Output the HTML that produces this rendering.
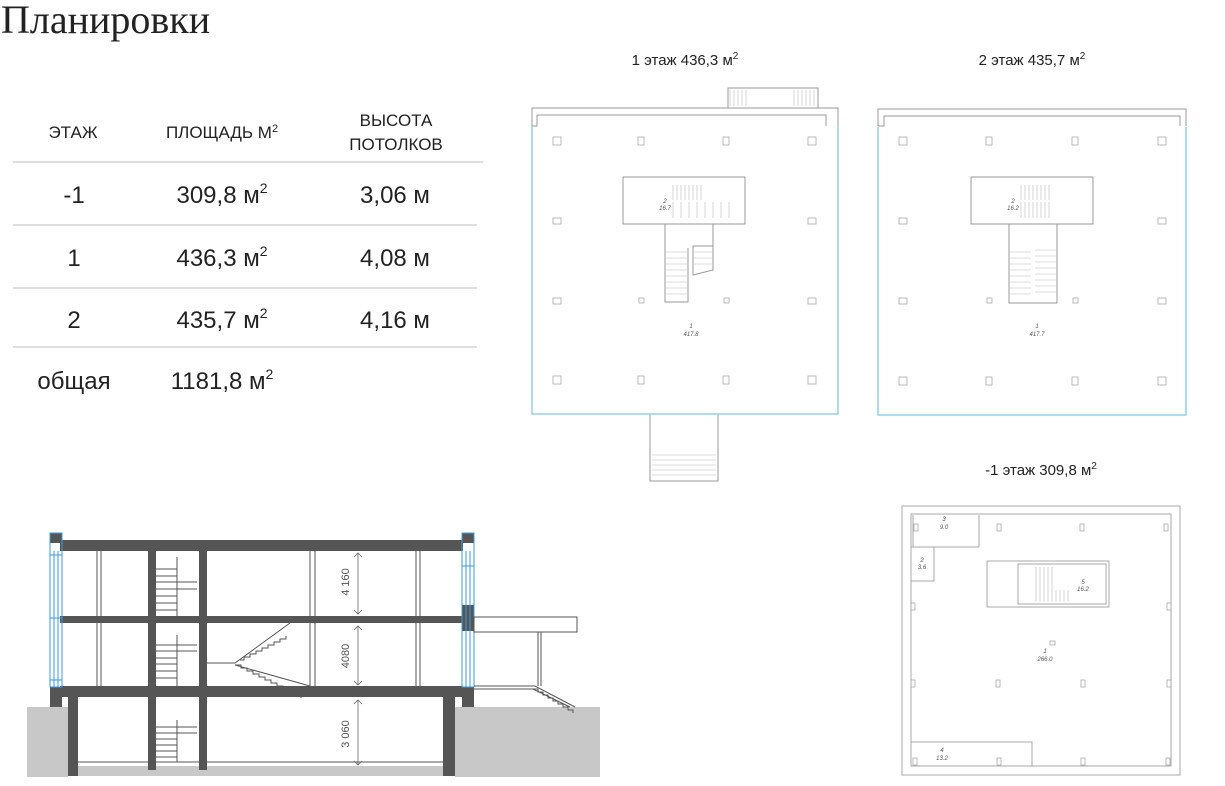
<!DOCTYPE html>
<html><head><meta charset="utf-8"><style>
html,body{margin:0;padding:0;background:#fff;}
body{width:1225px;height:786px;overflow:hidden;position:relative;}
svg{position:absolute;left:0;top:0;}
</style></head><body>
<svg width="1225" height="786" viewBox="0 0 1225 786" xmlns="http://www.w3.org/2000/svg">
<text x="1" y="33" font-family="Liberation Serif, serif" font-size="40" fill="#222">Планировки</text>
<g font-family="Liberation Sans, sans-serif" fill="#222" text-anchor="middle">
<text x="73" y="138" font-size="17">ЭТАЖ</text>
<text x="222" y="138" font-size="17">ПЛОЩАДЬ М<tspan font-size="11" dy="-6">2</tspan></text>
<text x="396" y="126" font-size="17">ВЫСОТА</text>
<text x="396" y="150" font-size="17">ПОТОЛКОВ</text>
<text x="74" y="203" font-size="24">-1</text>
<text x="222" y="203" font-size="24">309,8 м<tspan font-size="14" dy="-10">2</tspan></text>
<text x="395" y="203" font-size="24">3,06 м</text>
<text x="74" y="266" font-size="24">1</text>
<text x="222" y="266" font-size="24">436,3 м<tspan font-size="14" dy="-10">2</tspan></text>
<text x="395" y="266" font-size="24">4,08 м</text>
<text x="74" y="328" font-size="24">2</text>
<text x="222" y="328" font-size="24">435,7 м<tspan font-size="14" dy="-10">2</tspan></text>
<text x="395" y="328" font-size="24">4,16 м</text>
<text x="74" y="389" font-size="24">общая</text>
<text x="222" y="389" font-size="24">1181,8 м<tspan font-size="14" dy="-10">2</tspan></text>
<text x="685" y="65" font-size="15">1 этаж 436,3 м<tspan font-size="10" dy="-6">2</tspan></text>
<text x="1032" y="65" font-size="15">2 этаж 435,7 м<tspan font-size="10" dy="-6">2</tspan></text>
<text x="1041" y="475" font-size="15">-1 этаж 309,8 м<tspan font-size="10" dy="-6">2</tspan></text>
</g>
<g stroke="#ccc" stroke-width="1.2">
<line x1="13" y1="162" x2="483" y2="162"/><line x1="13" y1="225" x2="477" y2="225"/>
<line x1="13" y1="288" x2="477" y2="288"/><line x1="13" y1="347" x2="477" y2="347"/>
</g>

<!-- floor 1 -->
<g fill="none" stroke="#999" stroke-width="1">
<path d="M532,126 V108 H752 M772,108 H838 V126 M532,126 H537 V115 H826 V126"/>
<rect x="728" y="88" width="90" height="20"/>
<path d="M650,414 V481 H718 V414"/>
<rect x="623" y="177" width="122" height="47"/>
<path d="M665,224 V302 H688 V248 M713,224 V270 L693,275 V246 H713"/>
</g>
<g stroke="#bbb" stroke-width="0.6">
<path d="M730,90 V106 M734,90 V106 M738,90 V106 M742,90 V106 M746,90 V106 M794,90 V106 M798,90 V106 M802,90 V106 M806,90 V106 M810,90 V106 M814,90 V106"/>
<path d="M652,455 H716 M652,460 H716 M652,465 H716 M652,470 H716 M652,475 H716"/>
<path d="M673,185 V200 M677,185 V200 M681,185 V200 M685,185 V200 M689,185 V200 M693,185 V200 M697,185 V200 M701,185 V200 M673,202 V218 M681,202 V218 M689,202 V218 M697,202 V218 M705,202 V218 M713,202 V218 M721,202 V218 M729,202 V218"/>
<path d="M666,252 H687 M666,258 H687 M666,264 H687 M666,270 H687 M666,276 H687 M666,282 H687 M666,288 H687 M666,294 H687 M694,252 H712 M694,258 H712 M694,264 H712"/>
</g>
<path d="M532,126 V414 H838 V126" fill="none" stroke="#8fd0ea" stroke-width="1.5"/>
<g fill="none" stroke="#aaa" stroke-width="0.8">
<rect x="553" y="137" width="8" height="8"/><rect x="638" y="137" width="6" height="8"/><rect x="723" y="137" width="6" height="8"/><rect x="808" y="137" width="8" height="8"/>
<rect x="553" y="218" width="8" height="6"/><rect x="808" y="218" width="8" height="6"/>
<rect x="553" y="298" width="8" height="6"/><rect x="639" y="298" width="5" height="5"/><rect x="724" y="298" width="5" height="5"/><rect x="808" y="298" width="8" height="6"/>
<rect x="553" y="376" width="8" height="8"/><rect x="638" y="376" width="6" height="8"/><rect x="723" y="376" width="6" height="8"/><rect x="808" y="376" width="8" height="8"/>
</g>
<g font-family="Liberation Sans, sans-serif" font-size="6" fill="#555" text-anchor="middle" font-style="italic">
<text x="691" y="328">1</text><text x="691" y="336">417.8</text><text x="665" y="203">2</text><text x="665" y="210">16.7</text>
<text x="1037" y="328">1</text><text x="1037" y="336">417.7</text><text x="1013" y="203">2</text><text x="1013" y="210">16.2</text>
<text x="1045" y="653">1</text><text x="1045" y="661">266.0</text><text x="942" y="752">4</text><text x="942" y="760">13.2</text>
<text x="1083" y="584">5</text><text x="1083" y="591">16.2</text><text x="944" y="521">3</text><text x="944" y="529">9.0</text><text x="922" y="562">2</text><text x="922" y="569">3.6</text>
</g>

<!-- floor 2 -->
<g fill="none" stroke="#999" stroke-width="1">
<path d="M878,126 V109 H1186 V126 M878,126 H884 V116 H1180 V126"/>
<rect x="971" y="177" width="122" height="47"/>
<path d="M1009,224 V303 H1057 V224"/>
</g>
<g stroke="#bbb" stroke-width="0.6">
<path d="M1021,185 V200 M1025,185 V200 M1029,185 V200 M1033,185 V200 M1037,185 V200 M1041,185 V200 M1045,185 V200 M1049,185 V200 M1021,202 V218 M1025,202 V218 M1029,202 V218 M1033,202 V218 M1037,202 V218 M1041,202 V218 M1045,202 V218 M1049,202 V218"/>
<path d="M1010,252 H1031 M1010,258 H1031 M1010,264 H1031 M1010,270 H1031 M1010,276 H1031 M1010,282 H1031 M1010,288 H1031 M1010,294 H1031 M1035,250 H1056 M1035,256 H1056 M1035,262 H1056 M1035,268 H1056 M1035,274 H1056 M1035,280 H1056 M1035,286 H1056 M1035,292 H1056"/>
</g>
<path d="M878,127 V415 H1186 V127" fill="none" stroke="#8fd0ea" stroke-width="1.5"/>
<g fill="none" stroke="#aaa" stroke-width="0.8">
<rect x="899" y="137" width="8" height="8"/><rect x="986" y="137" width="6" height="8"/><rect x="1072" y="137" width="6" height="8"/><rect x="1158" y="137" width="8" height="8"/>
<rect x="899" y="218" width="8" height="6"/><rect x="1158" y="218" width="8" height="6"/>
<rect x="899" y="298" width="8" height="6"/><rect x="987" y="298" width="5" height="5"/><rect x="1073" y="298" width="5" height="5"/><rect x="1158" y="298" width="8" height="6"/>
<rect x="899" y="377" width="8" height="8"/><rect x="986" y="377" width="6" height="8"/><rect x="1072" y="377" width="6" height="8"/><rect x="1158" y="377" width="8" height="8"/>
</g>

<!-- floor -1 -->
<g fill="none" stroke="#aaa" stroke-width="1">
<rect x="902" y="506" width="278" height="269"/>
<rect x="911" y="514" width="260" height="252"/>
<path d="M913,515 V547 H979 V515 M911,547 H934 V581 H911"/>
<rect x="987" y="561" width="122" height="46"/>
<rect x="1018" y="564" width="88" height="40"/>
<path d="M911,742 H1032 V766"/>
</g>
<g stroke="#bbb" stroke-width="0.6">
<path d="M1036,567 V590 M1040,567 V590 M1044,567 V590 M1048,567 V590 M1052,567 V590 M1036,590 V602 M1040,590 V602 M1044,590 V602 M1048,590 V602 M1052,590 V602 M1056,590 V602 M1060,590 V602 M1064,590 V602 M1068,590 V602"/>
</g>
<g fill="none" stroke="#aaa" stroke-width="0.8">
<rect x="914" y="524" width="4" height="7"/><rect x="997" y="524" width="4" height="7"/><rect x="1080" y="524" width="4" height="7"/><rect x="1164" y="524" width="4" height="7"/>
<rect x="911" y="603" width="4" height="7"/><rect x="1167" y="603" width="4" height="7"/>
<rect x="1050" y="641" width="5" height="4"/>
<rect x="911" y="680" width="4" height="7"/><rect x="996" y="680" width="4" height="7"/><rect x="1081" y="680" width="4" height="7"/><rect x="1167" y="680" width="4" height="7"/>
<rect x="913" y="758" width="4" height="7"/><rect x="997" y="758" width="4" height="7"/><rect x="1081" y="758" width="4" height="7"/><rect x="1166" y="758" width="4" height="7"/>
</g>

<!-- section -->
<rect x="27" y="707" width="573" height="70" fill="#c8c8c8"/>
<rect x="68" y="697" width="387" height="80" fill="#fff"/>
<rect x="68" y="766" width="387" height="10" fill="#c8c8c8"/>
<line x1="78" y1="762" x2="443" y2="762" stroke="#555" stroke-width="1"/>
<g fill="#555">
<rect x="50" y="533" width="12" height="10"/>
<rect x="462" y="533" width="12" height="10"/>
<rect x="60" y="540" width="403" height="11"/>
<rect x="60" y="616" width="403" height="7"/>
<rect x="60" y="686" width="403" height="11"/>
<rect x="50" y="687" width="12" height="20"/>
<rect x="462" y="687" width="12" height="20"/>
<rect x="462" y="605" width="12" height="26"/>
<rect x="68" y="697" width="10" height="79"/>
<rect x="443" y="697" width="12" height="79"/>
<rect x="148" y="551" width="8" height="219"/>
<rect x="199" y="551" width="8" height="219"/>
</g>
<g fill="none" stroke="#3a9be0" stroke-width="1">
<rect x="50" y="533" width="12" height="154"/>
<line x1="54" y1="551" x2="54" y2="687"/><line x1="58" y1="551" x2="58" y2="687"/>
<line x1="50" y1="555" x2="62" y2="555"/><line x1="50" y1="618" x2="62" y2="618"/><line x1="50" y1="680" x2="62" y2="680"/>
<rect x="462" y="533" width="12" height="154"/>
<line x1="466" y1="551" x2="466" y2="687"/><line x1="470" y1="551" x2="470" y2="687"/>
<line x1="462" y1="566" x2="474" y2="566"/>
</g>
<g stroke="#555" stroke-width="1" fill="none">
<path d="M97,551 V686 M101,551 V686 M310,551 V686 M315,551 V686 M416,551 V686 M420,551 V686"/>
<path d="M177,557 V616 M177,635 V686 M177,720 V762"/>
<path d="M156,582 H197 M156,589 H197 M156,596 H177 M156,603 H177 M156,610 H177 M156,569 H177 M156,576 H177"/>
<path d="M156,645 H197 M156,651 H197 M156,658 H177 M156,664 H177 M156,671 H177 M156,678 H177"/>
<path d="M156,727 H197 M156,733 H197 M156,739 H177 M156,745 H177 M156,751 H177 M156,757 H177"/>
<path d="M207,663 H235 L290,623 M235,665 L310,686"/>
<path d="M240,660 l4,0 l0,-3 l6,0 l0,-3 l6,0 l0,-3 l6,0 l0,-3 l6,0 l0,-3 l6,0 l0,-3 l6,0 l0,-3 l6,0 l0,-3"/>
<path d="M235,665 l6,0 l0,3 l6,0 l0,3 l6,0 l0,3 l6,0 l0,3 l6,0 l0,3 l6,0 l0,3 l6,0 l0,3 l6,0 l0,3 l6,0 l0,3 l6,0 l0,3 l6,0 l0,3"/>
<rect x="474" y="617" width="103" height="15"/>
<path d="M538,632 V686 M541,632 V686"/>
<path d="M474,686 H535 L575,707 M474,689 H533 L570,707"/>
<path d="M533,689 l5,0 l0,3 l5,0 l0,3 l5,0 l0,3 l5,0 l0,3 l5,0 l0,3 l5,0 l0,3 l5,0 l0,3 l5,0 l0,3"/>
</g>
<g stroke="#666" stroke-width="0.8" fill="none">
<path d="M358,553 V614 M354,557 L358,553 L362,557 M354,610 L358,614 L362,610"/>
<path d="M358,626 V685 M354,630 L358,626 L362,630 M354,681 L358,685 L362,681"/>
<path d="M358,700 V765 M354,704 L358,700 L362,704 M354,761 L358,765 L362,761"/>
</g>
<g font-family="Liberation Sans, sans-serif" font-size="11" fill="#555" text-anchor="middle">
<text transform="translate(349,582) rotate(-90)">4 160</text>
<text transform="translate(349,656) rotate(-90)">4080</text>
<text transform="translate(349,734) rotate(-90)">3 060</text>
</g>
</svg>
</body></html>
